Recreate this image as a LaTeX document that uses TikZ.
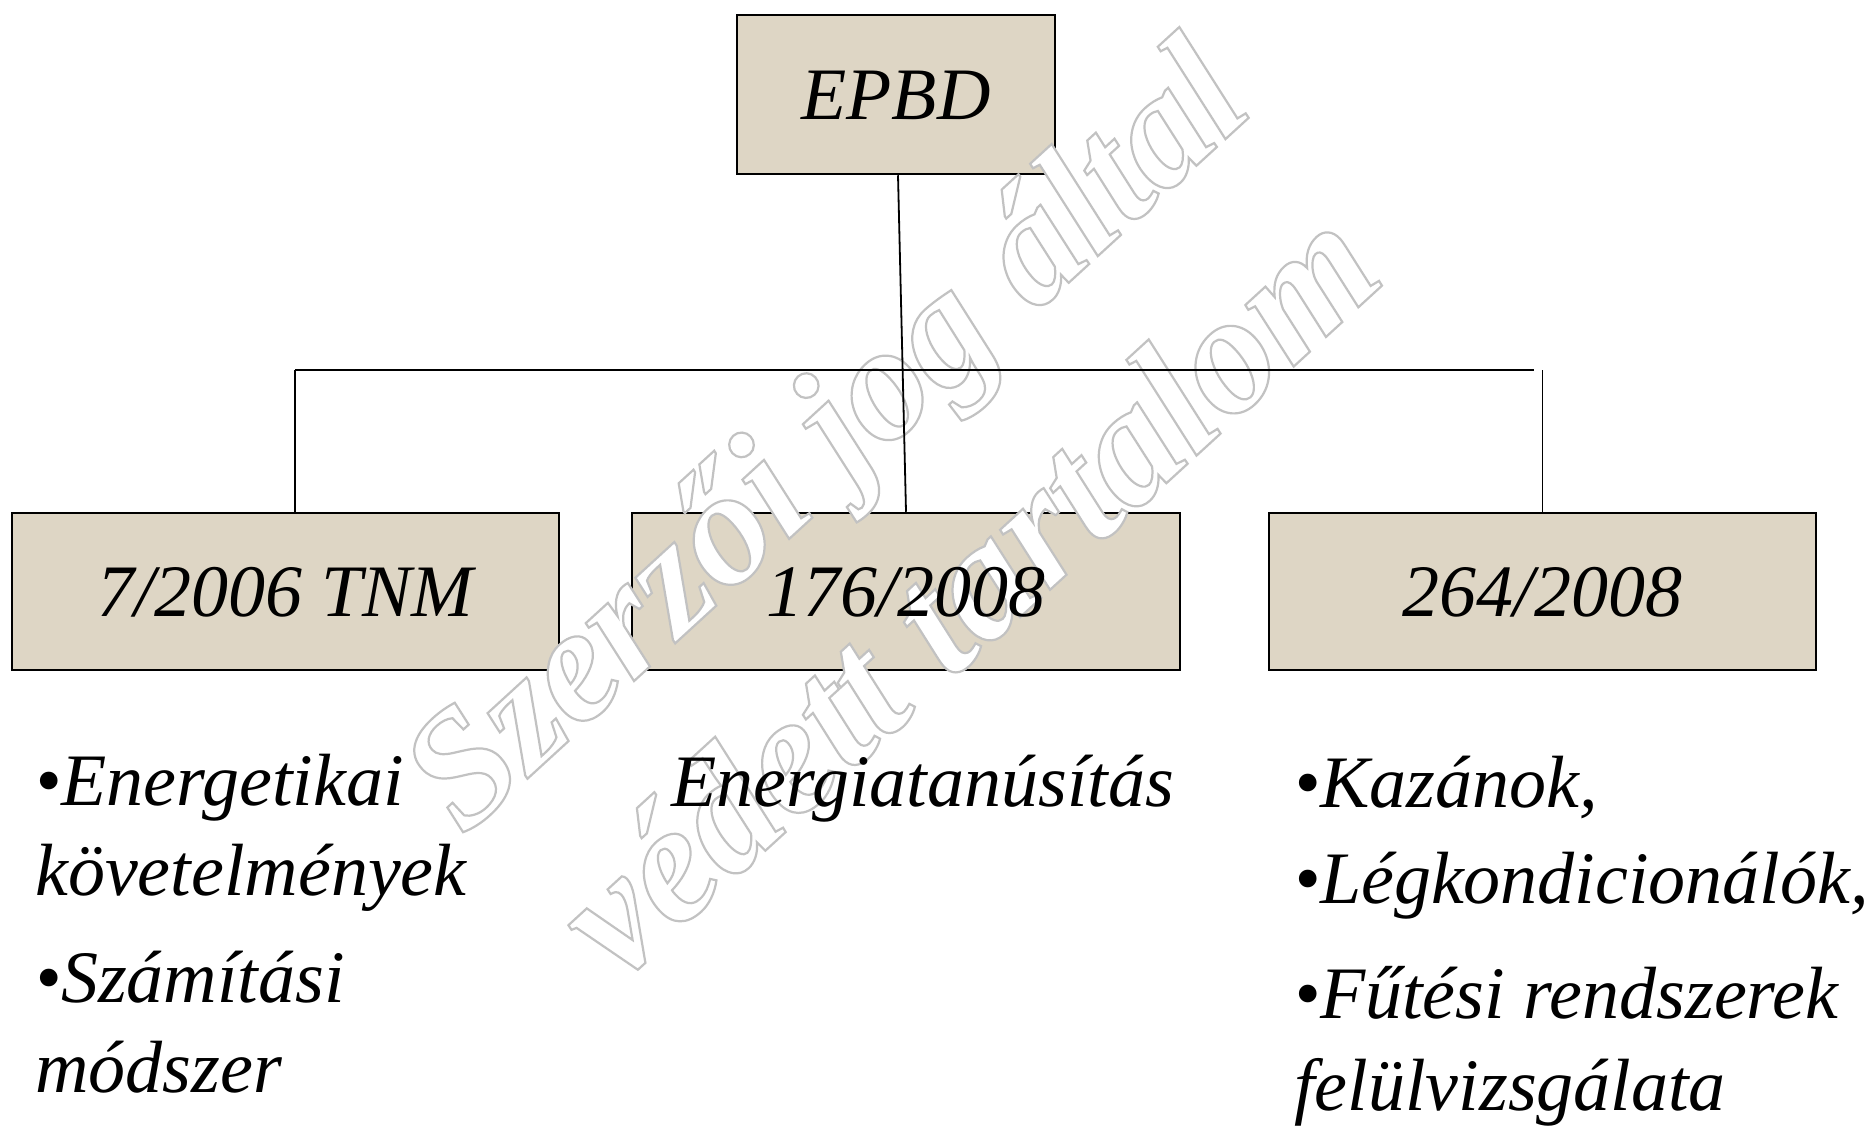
\documentclass[tikz,border=0pt]{standalone}
\usepackage{fontspec}
\setmainfont{Liberation Serif}
\definecolor{boxfill}{RGB}{222,214,197}
\newcommand\hollowtext[1]{\special{pdf:literal direct 2 Tr 2.2 w 0.76 0.76 0.76 RG 1 1 1 rg}#1\special{pdf:literal direct 0 Tr 0 0 0 RG 0 0 0 rg}}
\begin{document}
\begin{tikzpicture}[x=1pt,y=1pt,
  box/.style={draw=black, line width=2.5pt, fill=boxfill, minimum height=157pt, inner sep=0pt},
  boxtext/.style={inner sep=0pt, text height=49pt, text depth=0pt,
    font=\fontsize{74}{88}\selectfont\itshape},
  conn/.style={line width=1.8pt, draw=black},
  item/.style={anchor=base west, inner sep=0pt, font=\fontsize{74}{88}\selectfont\itshape},
  wm/.style={anchor=base, inner sep=0pt, rotate=42.5}]
\fill[white] (0,0) rectangle (1870,-1125);
\useasboundingbox (0,0) rectangle (1870,-1125);

% boxes
\node[box, minimum width=318pt, minimum height=159pt] (epbd) at (896,-94.5) {};
\node[box, minimum width=547pt] (b1) at (285.5,-591.5) {};
\node[box, minimum width=548pt] (b2) at (906,-591.5) {};
\node[box, minimum width=547pt] (b3) at (1542.5,-591.5) {};

% watermark
\node[wm, font=\fontsize{164}{180}\selectfont\bfseries\itshape] (w1) at (860,-474) {\hollowtext{Szerzői jog által}};
\node[wm, font=\fontsize{170}{180}\selectfont\bfseries\itshape] (w2) at (1004,-632) {\hollowtext{védett tartalom}};

% connectors
\coordinate (hl) at (295,-370);
\coordinate (hr) at (1534,-370);
\draw[conn] ([xshift=2pt]epbd.south) -- (b2.north);
\draw[conn] (hl) -- (hr);
\draw[conn] (hl) -- (hl |- b1.north);
\draw[conn] (b3.north |- hr) -- (b3.north);

% box labels
\node[boxtext] (t0) at (epbd) {EPBD};
\node[boxtext] (t1) at (b1) {7/2006 TNM};
\node[boxtext] (t2) at (b2) {176/2008};
\node[boxtext] (t3) at (b3) {264/2008};

% lists
\node[item] (l1) at (35,-805) {•Energetikai};
\node[item] (l2) at (35,-895) {követelmények};
\node[item] (l3) at (35,-1002) {•Számítási};
\node[item] (l4) at (35,-1092) {módszer};
\node[item] (m1) at (671,-806) {Energiatanúsítás};
\node[item] (r1) at (1294,-807) {•Kazánok,};
\node[item] (r2) at (1294,-903) {•Légkondicionálók,};
\node[item] (r3) at (1294,-1018) {•Fűtési rendszerek};
\node[item] (r4) at (1294,-1110) {felülvizsgálata};
\end{tikzpicture}
\end{document}
